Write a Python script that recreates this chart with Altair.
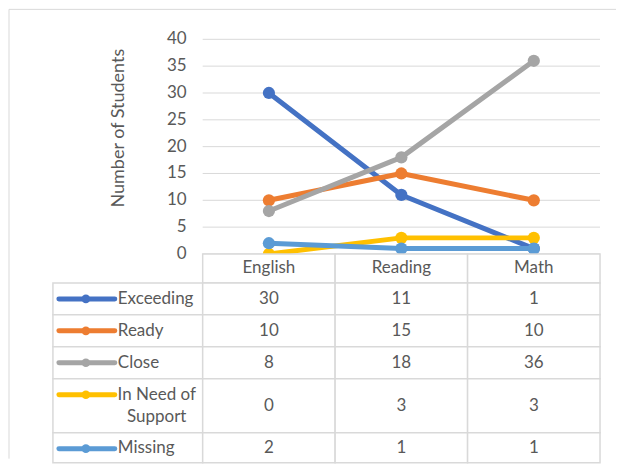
import altair as alt
import pandas as pd

# ---------------- data ----------------
categories = ["English", "Reading", "Math"]
series = ["Exceeding", "Ready", "Close", "In Need of Support", "Missing"]
series_labels = ["Exceeding", "Ready", "Close", "In Need of\nSupport", "Missing"]
exceeding = [30, 11, 1]
ready = [10, 15, 10]
close = [8, 18, 36]
need_support = [0, 3, 3]
missing = [2, 1, 1]
y_ticks = [0, 5, 10, 15, 20, 25, 30, 35, 40]
y_title = "Number of Students"

colors = ["#4472C4", "#ED7D31", "#A5A5A5", "#FFC000", "#5B9BD5"]
values = [exceeding, ready, close, need_support, missing]

# ---------------- geometry ----------------
PLOT_W = 398          # width of the three category columns
LABEL_W = 150         # width of the legend/label column of the data table
W = PLOT_W + LABEL_W
TOP_H = 215
LU = LABEL_W / PLOT_W * len(categories)   # label column width in category units
x_scale = alt.Scale(domain=[-LU, len(categories)], nice=False, zero=False)
y_scale = alt.Scale(domain=[0, 40], nice=False, zero=True)

FONT = "Lato"
FS = 17
TXT = "#595959"
GRID = "#d9d9d9"

# long table for lines
rows = []
for s_i, s in enumerate(series):
    for c_i, c in enumerate(categories):
        rows.append({"series": s, "order": s_i, "category": c,
                     "xi": c_i + 0.5, "value": values[s_i][c_i]})
long_df = pd.DataFrame(rows)

grid_df = pd.DataFrame({"tick": y_ticks, "label": [str(t) for t in y_ticks]})
title_df = pd.DataFrame({"title": [y_title]})

grid = alt.Chart(grid_df).mark_rule(color=GRID, strokeWidth=1).encode(
    x=alt.X(datum=0, type="quantitative", scale=x_scale, axis=None),
    x2=alt.X2(datum=len(categories)),
    y=alt.Y("tick:Q", scale=y_scale, axis=None),
)
tick_labels = alt.Chart(grid_df).mark_text(font=FONT, fontSize=FS, color=TXT,
                                           align="right", baseline="middle").encode(
    x=alt.value(LABEL_W - 16),
    y=alt.Y("tick:Q", scale=y_scale, axis=None),
    text="label:N",
)
y_title_mark = alt.Chart(title_df).mark_text(font=FONT, fontSize=18, color=TXT,
                                             align="center", baseline="middle",
                                             angle=270).encode(
    x=alt.value(66), y=alt.value(89), text="title:N")

layers = [grid, tick_labels, y_title_mark]
for s_i, s in enumerate(series):
    sub = long_df[long_df["series"] == s]
    base = alt.Chart(sub).encode(
        x=alt.X("xi:Q", scale=x_scale, axis=None),
        y=alt.Y("value:Q", scale=y_scale, axis=None),
    )
    layers.append(base.mark_line(color=colors[s_i], strokeWidth=5,
                                 strokeCap="round", strokeJoin="round"))
    layers.append(base.mark_point(color=colors[s_i], filled=True, opacity=1,
                                  size=150, shape="circle"))

# outer chart frame (light border), kept inside the window
frame_top = alt.Chart(title_df).mark_rule(color=GRID, strokeWidth=1).encode(
    x=alt.value(-44), x2=alt.value(564), y=alt.value(-30))
frame_left = alt.Chart(title_df).mark_rule(color=GRID, strokeWidth=1).encode(
    x=alt.value(-44), y=alt.value(-30), y2=alt.value(420))
layers += [frame_top, frame_left]

top = alt.layer(*layers).properties(width=W, height=TOP_H)

# ---------------- data table ----------------
HEADER_H = 29
ROW_H = 32
LINE_H = 22
row_heights = [ROW_H + LINE_H * (lab.count("\n")) for lab in series_labels]
row_heights[-1] = 30
TABLE_H = HEADER_H + sum(row_heights)
ty_scale = alt.Scale(domain=[0, TABLE_H], nice=False, zero=False, reverse=True)

cells = []
texts = []
labels = []
for c_i, c in enumerate(categories):
    cells.append({"x0": c_i, "x1": c_i + 1, "y0": 0, "y1": HEADER_H})
    texts.append({"xi": c_i + 0.5, "yc": HEADER_H / 2, "t": c})
top_y = HEADER_H
for s_i, s in enumerate(series):
    h = row_heights[s_i]
    n_lines = series_labels[s_i].count("\n") + 1
    cells.append({"x0": -LU, "x1": 0, "y0": top_y, "y1": top_y + h})
    for c_i, c in enumerate(categories):
        cells.append({"x0": c_i, "x1": c_i + 1, "y0": top_y, "y1": top_y + h})
        texts.append({"xi": c_i + 0.5, "yc": top_y + h / 2, "t": str(values[s_i][c_i])})
    labels.append({"series": s, "label": series_labels[s_i],
                   "yc": top_y + h / 2 - (n_lines - 1) * LINE_H / 2,
                   "ysym": top_y + ROW_H / 2, "multi": n_lines > 1})
    top_y += h
cells_df = pd.DataFrame(cells)
texts_df = pd.DataFrame(texts)
labels_df = pd.DataFrame(labels)

cell_layer = alt.Chart(cells_df).mark_rect(fill="white", stroke=GRID, strokeWidth=1.5).encode(
    x=alt.X("x0:Q", scale=x_scale, axis=None), x2="x1:Q",
    y=alt.Y("y0:Q", scale=ty_scale, axis=None), y2="y1:Q",
)
text_layer = alt.Chart(texts_df).mark_text(font=FONT, fontSize=FS, color=TXT,
                                           align="center", baseline="middle").encode(
    x=alt.X("xi:Q", scale=x_scale, axis=None),
    y=alt.Y("yc:Q", scale=ty_scale, axis=None),
    text="t:N",
)
color_scale = alt.Scale(domain=series, range=colors)
sym_line = alt.Chart(labels_df).mark_rule(strokeWidth=5, strokeCap="round").encode(
    x=alt.value(6), x2=alt.value(62),
    y=alt.Y("ysym:Q", scale=ty_scale, axis=None),
    color=alt.Color("series:N", scale=color_scale, legend=None),
)
sym_pt = alt.Chart(labels_df).mark_point(filled=True, opacity=1, size=75, shape="circle").encode(
    x=alt.value(33),
    y=alt.Y("ysym:Q", scale=ty_scale, axis=None),
    color=alt.Color("series:N", scale=color_scale, legend=None),
)
lab_single = alt.Chart(labels_df).transform_filter("!datum.multi").mark_text(
    font=FONT, fontSize=FS, color=TXT, align="left", baseline="middle").encode(
    x=alt.value(65),
    y=alt.Y("yc:Q", scale=ty_scale, axis=None),
    text="label:N",
)
lab_multi = alt.Chart(labels_df).transform_filter("datum.multi").mark_text(
    font=FONT, fontSize=FS, color=TXT, align="center", baseline="middle",
    lineBreak="\n", lineHeight=LINE_H).encode(
    x=alt.value(104),
    y=alt.Y("yc:Q", scale=ty_scale, axis=None),
    text="label:N",
)

table = alt.layer(cell_layer, text_layer, sym_line, sym_pt, lab_single, lab_multi).properties(
    width=W, height=TABLE_H)

chart = alt.vconcat(top, table, spacing=0, bounds="flush").properties(
    padding={"left": 0, "top": 0, "right": 0, "bottom": 0}
).configure_view(stroke=None)

chart.save("out.html", embed_options={"renderer": "svg", "actions": False})
